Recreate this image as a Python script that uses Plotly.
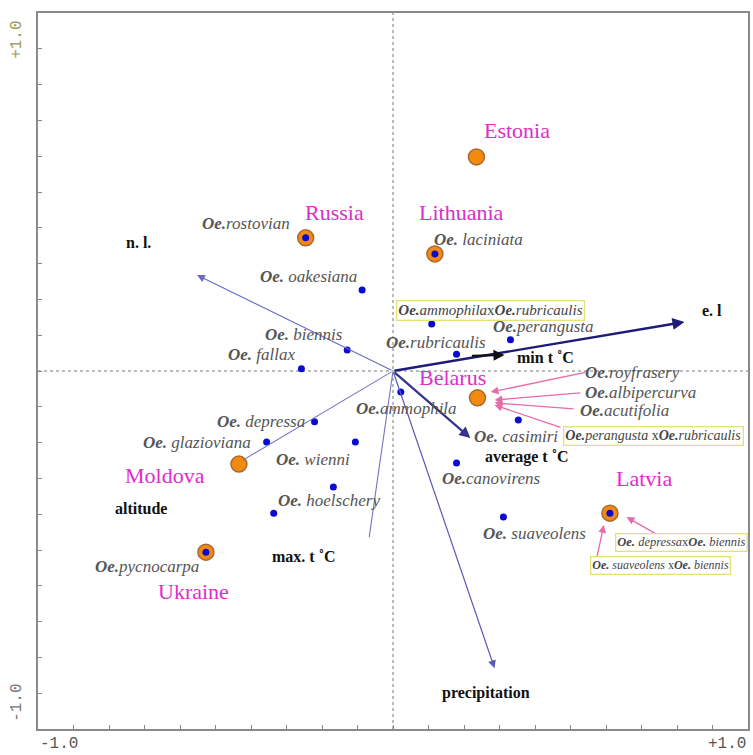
import plotly.graph_objects as go

# ---- ordination scores ----
# countries (site scores)
country_names = ["Estonia", "Russia", "Lithuania", "Belarus", "Moldova", "Ukraine", "Latvia"]
country_x = [0.235, -0.246, 0.118, 0.238, -0.434, -0.527, 0.611]
country_y = [0.598, 0.372, 0.327, -0.075, -0.260, -0.506, -0.397]
country_lab_x = [0.350, -0.165, 0.193, 0.168, -0.641, -0.563, 0.706]
country_lab_y = [0.673, 0.444, 0.444, -0.017, -0.293, -0.617, -0.299]

# species scores
species_x = [-0.246, 0.118, -0.527, 0.611, -0.087, -0.129, -0.258, 0.109, 0.179, 0.331,
             0.022, 0.353, 0.179, 0.311, -0.221, -0.356, -0.106, -0.168, -0.336]
species_y = [0.372, 0.327, -0.506, -0.397, 0.226, 0.059, 0.006, 0.131, 0.047, 0.087,
             -0.059, -0.137, -0.257, -0.408, -0.142, -0.198, -0.198, -0.324, -0.397]

# species labels: (genus, epithet, x, y)
species_labels = [
    ("Oe.", "rostovian", -0.415, 0.413),
    ("Oe.", " oakesiana", -0.238, 0.265),
    ("Oe.", " biennis", -0.252, 0.101),
    ("Oe.", " fallax", -0.370, 0.047),
    ("Oe.", " laciniata", 0.241, 0.366),
    ("Oe.", "rubricaulis", 0.120, 0.081),
    ("Oe.", "perangusta", 0.423, 0.123),
    ("Oe.", "royfrasery", 0.675, -0.003),
    ("Oe.", "albipercurva", 0.697, -0.059),
    ("Oe.", "acutifolia", 0.653, -0.109),
    ("Oe.", "ammophila", 0.039, -0.106),
    ("Oe.", " casimiri", 0.347, -0.182),
    ("Oe.", "canovirens", 0.277, -0.299),
    ("Oe.", " suaveolens", 0.398, -0.453),
    ("Oe.", " depressa", -0.373, -0.140),
    ("Oe.", " glazioviana", -0.552, -0.201),
    ("Oe.", " wienni", -0.224, -0.246),
    ("Oe.", " hoelschery", -0.179, -0.363),
    ("Oe.", "pycnocarpa", -0.692, -0.547),
]

# hybrid labels in boxes: (text, x, y, font size)
hybrid_labels = [
    ("<b><i>Oe.</i></b><i>ammophila</i>x<b><i>Oe.</i></b><i>rubricaulis</i>", 0.275, 0.170, 15),
    ("<b><i>Oe.</i></b><i>perangusta</i> x<b><i>Oe.</i></b><i>rubricaulis</i>", 0.734, -0.182, 14),
    ("<b><i>Oe.</i></b><i> depressa</i>x<b><i>Oe.</i></b><i> biennis</i>", 0.812, -0.480, 12.5),
    ("<b><i>Oe.</i></b><i> suaveolens </i>x<b><i>Oe.</i></b><i> biennis</i>", 0.753, -0.542, 12),
]

# pointers from hybrid/extra labels to their country: (tail, head)
pointer_tail_x = [0.546, 0.532, 0.513, 0.476, 0.751, 0.574]
pointer_tail_y = [-0.003, -0.061, -0.106, -0.159, -0.461, -0.522]
pointer_head_x = [0.275, 0.286, 0.286, 0.286, 0.658, 0.594]
pointer_head_y = [-0.059, -0.081, -0.089, -0.095, -0.408, -0.430]

# environmental vectors
env_names = ["e. l", "n. l.", "average t \u02daC", "precipitation", "altitude", "max. t \u02daC"]
env_x = [0.821, -0.552, 0.218, 0.286, -0.423, -0.067]
env_y = [0.137, 0.268, -0.187, -0.830, -0.249, -0.464]
env_lab_x = [0.899, -0.717, 0.378, 0.263, -0.709, -0.252]
env_lab_y = [0.168, 0.358, -0.240, -0.900, -0.383, -0.517]
env_color = ["#1c1c78", "#6a6ac4", "#34348c", "#5a5ab8", "#7474c4", "#7474c4"]
env_width = [2.4, 1.2, 2.2, 1.2, 1.1, 1.1]
env_head = [2, 2, 2, 2, 0, 0]

# min t vector (drawn as a short offset arrow)
mint_tail = (0.218, 0.042)
mint_head = (0.314, 0.045)
mint_label = ("min t \u02daC", 0.429, 0.039)

SERIF = "Liberation Serif, Times New Roman, serif"
MONO = "Liberation Mono, Courier New, monospace"
MAGENTA = "#e02cc8"

fig = go.Figure()

# country markers
fig.add_trace(go.Scatter(
    x=country_x, y=country_y, mode="markers",
    marker=dict(size=16, color="#f28a10", line=dict(color="#a86a30", width=1.5)),
    hoverinfo="skip", showlegend=False))

# species markers
fig.add_trace(go.Scatter(
    x=species_x, y=species_y, mode="markers",
    marker=dict(size=7, color="#0a0ad0"),
    hoverinfo="skip", showlegend=False))

ann = []

# environmental arrows
for i in range(len(env_names)):
    ann.append(dict(x=env_x[i], y=env_y[i], ax=0, ay=0, xref="x", yref="y",
                    axref="x", ayref="y", text="", showarrow=True,
                    arrowhead=env_head[i], arrowsize=1.3 if env_width[i] < 2 else 1.0,
                    arrowwidth=env_width[i], arrowcolor=env_color[i], standoff=0))
    ann.append(dict(x=env_lab_x[i], y=env_lab_y[i], text="<b>%s</b>" % env_names[i],
                    showarrow=False, font=dict(family=SERIF, size=16, color="#111111")))

ann.append(dict(x=mint_head[0], y=mint_head[1], ax=mint_tail[0], ay=mint_tail[1],
                xref="x", yref="y", axref="x", ayref="y", text="", showarrow=True,
                arrowhead=2, arrowsize=1.0, arrowwidth=2.2, arrowcolor="#101010"))
ann.append(dict(x=mint_label[1], y=mint_label[2], text="<b>%s</b>" % mint_label[0],
                showarrow=False, font=dict(family=SERIF, size=16, color="#111111")))

# pink pointers
for tx, ty, hx, hy in zip(pointer_tail_x, pointer_tail_y, pointer_head_x, pointer_head_y):
    ann.append(dict(x=hx, y=hy, ax=tx, ay=ty, xref="x", yref="y", axref="x", ayref="y",
                    text="", showarrow=True, arrowhead=2, arrowsize=1.2,
                    arrowwidth=1.3, arrowcolor="#e86aa8"))

# species labels
for g, e, lx, ly in species_labels:
    ann.append(dict(x=lx, y=ly, text="<b><i>%s</i></b><i>%s</i>" % (g, e), showarrow=False,
                    font=dict(family=SERIF, size=17, color="#555555")))

# hybrid labels
for t, lx, ly, fs in hybrid_labels:
    ann.append(dict(x=lx, y=ly, text=t, showarrow=False,
                    font=dict(family=SERIF, size=fs, color="#444444"),
                    bordercolor="#e2e27a", borderwidth=1.3, borderpad=1,
                    bgcolor="rgba(255,255,255,0.9)"))

# country labels
for n, lx, ly in zip(country_names, country_lab_x, country_lab_y):
    ann.append(dict(x=lx, y=ly, text=n, showarrow=False,
                    font=dict(family=SERIF, size=22, color=MAGENTA)))

# axis end labels
ann.append(dict(x=-1.0, y=0, xref="x", yref="paper", text="-1.0", showarrow=False,
                xanchor="left", yanchor="top", yshift=-4,
                font=dict(family=MONO, size=16, color="#555555")))
ann.append(dict(x=1.0, y=0, xref="x", yref="paper", text="+1.0", showarrow=False,
                xanchor="right", yanchor="top", yshift=-4,
                font=dict(family=MONO, size=16, color="#555555")))
ann.append(dict(x=0, y=0.925, xref="paper", yref="y", text="+1.0", showarrow=False,
                textangle=-90, xanchor="right", xshift=-10,
                font=dict(family=MONO, size=16, color="#9a9a4a")))
ann.append(dict(x=0, y=-0.927, xref="paper", yref="y", text="-1.0", showarrow=False,
                textangle=-90, xanchor="right", xshift=-10,
                font=dict(family=MONO, size=16, color="#777777")))

fig.update_layout(
    width=753, height=755,
    margin=dict(l=38, r=3, t=13, b=26),
    paper_bgcolor="white", plot_bgcolor="white",
    annotations=ann,
    shapes=[
        dict(type="line", x0=0, x1=0, y0=-1, y1=1, xref="x", yref="y",
             line=dict(color="#777777", width=1, dash="dot"), layer="below"),
        dict(type="line", x0=-1, x1=1, y0=0, y1=0, xref="x", yref="y",
             line=dict(color="#777777", width=1, dash="dot"), layer="below"),
    ],
)
axis_common = dict(range=[-1, 1], showgrid=False, zeroline=False, showticklabels=False,
                   ticks="inside", ticklen=4, tickcolor="#888888", dtick=0.1, tick0=0,
                   showline=True, linecolor="#8a8a8a", linewidth=2, mirror=True,
                   fixedrange=True)
fig.update_xaxes(**axis_common)
fig.update_yaxes(**axis_common)

fig.write_html("out.html")
